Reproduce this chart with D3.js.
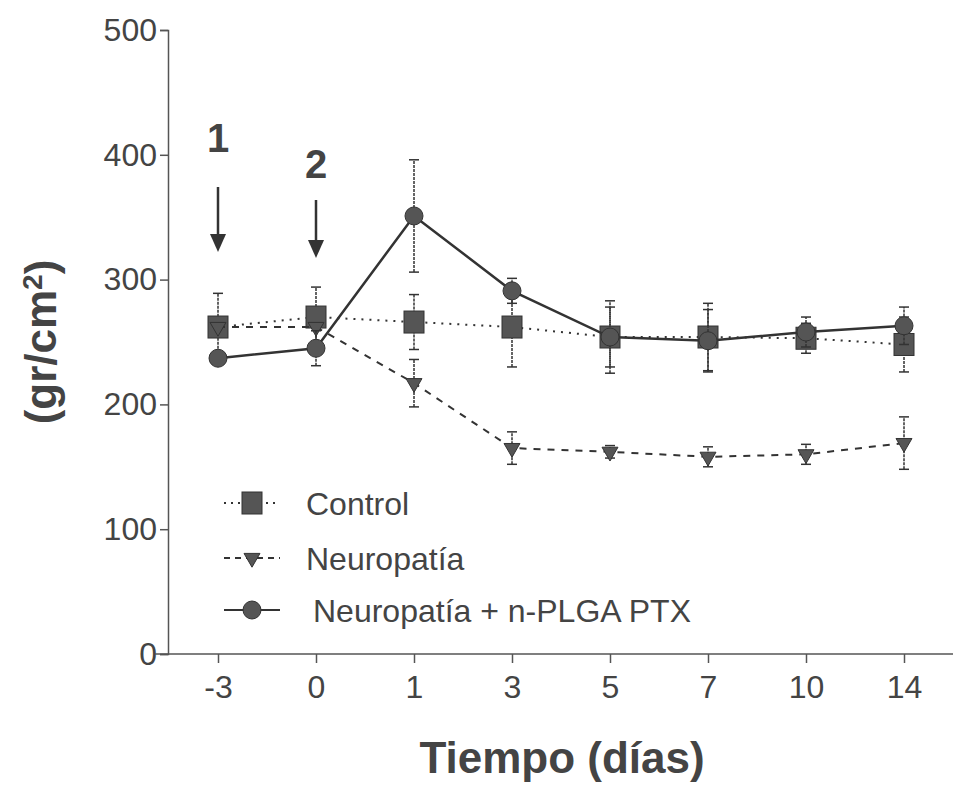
<!DOCTYPE html>
<html>
<head>
<meta charset="utf-8">
<script src="https://cdn.jsdelivr.net/npm/d3@7"></script>
<style>
  body { margin: 0; background: #fff; }
  text { font-family: "Liberation Sans", Arial, sans-serif; fill: #444; }
</style>
</head>
<body>
<div id="chart"></div>
<script>
// data
const days = ["-3", "0", "1", "3", "5", "7", "10", "14"];
const yTicks = [0, 100, 200, 300, 400, 500];

const controlMean = [262, 270, 266, 262, 254, 254, 253, 248];
const controlErr = [27, 24, 22, 32, 29, 27, 12, 22];
const neuroMean = [262, 262, 217, 165, 162, 158, 160, 169];
const neuroErr = [0, 0, 19, 13, 5, 8, 8, 21];
const ptxMean = [237, 245, 351, 291, 254, 251, 258, 263];
const ptxErr = [0, 14, 45, 10, 24, 25, 12, 15];

const series = [
  { name: "Control", mean: controlMean, err: controlErr, dash: "2,6", shape: "square", tx: 306 },
  { name: "Neuropatía", mean: neuroMean, err: neuroErr, dash: "7,7", shape: "triangle", tx: 306 },
  { name: "Neuropatía + n-PLGA PTX", mean: ptxMean, err: ptxErr, dash: null, shape: "circle", tx: 313 },
];

const width = 953, height = 785;
const svg = d3.select("#chart").append("svg").attr("width", width).attr("height", height);

const x = d3.scalePoint().domain(days).range([218, 904]);
const y = d3.scaleLinear().domain([0, 500]).range([654, 30]);
const ink = "#333";

// y axis
const yAxis = svg.append("g").attr("transform", "translate(168,0)")
  .call(d3.axisLeft(y).tickValues(yTicks).tickSize(8).tickPadding(3));
yAxis.select(".domain").attr("stroke", "#555").attr("stroke-width", 1.5);
yAxis.selectAll(".tick line").attr("stroke", "#555").attr("stroke-width", 1.5);
yAxis.selectAll(".tick text").attr("font-size", 32);

// x axis: line runs on to the right edge
svg.append("line").attr("x1", 155).attr("x2", width).attr("y1", y(0)).attr("y2", y(0))
  .attr("stroke", "#555").attr("stroke-width", 1.5);
const xAxis = svg.append("g").attr("transform", `translate(0,${y(0)})`)
  .call(d3.axisBottom(x).tickSize(9).tickPadding(12));
xAxis.select(".domain").remove();
xAxis.selectAll(".tick line").attr("stroke", "#555").attr("stroke-width", 1.5);
xAxis.selectAll(".tick text").attr("font-size", 32);

// axis titles
svg.append("text").attr("x", 562).attr("y", 773).attr("text-anchor", "middle")
  .attr("font-size", 44).attr("font-weight", "bold").text("Tiempo (días)");
svg.append("text").attr("transform", "translate(56,342) rotate(-90)").attr("text-anchor", "middle")
  .attr("font-size", 44).attr("font-weight", "bold")
  .html('(gr/cm<tspan dy="-14" font-size="28">2</tspan><tspan dy="14">)</tspan>');

// markers
function marker(g, shape, cx, cy) {
  if (shape === "square") {
    g.append("rect").attr("x", cx - 10).attr("y", cy - 11).attr("width", 20).attr("height", 22)
      .attr("fill", "#555").attr("stroke", ink);
  } else if (shape === "triangle") {
    g.append("path").attr("d", d3.symbol(d3.symbolTriangle, 110)())
      .attr("transform", `translate(${cx},${cy}) rotate(180)`)
      .attr("fill", "#555").attr("stroke", ink);
  } else {
    g.append("circle").attr("cx", cx).attr("cy", cy).attr("r", 9)
      .attr("fill", "#555").attr("stroke", ink);
  }
}

const line = d3.line().x((d, i) => x(days[i])).y(d => y(d));

series.forEach(s => {
  const g = svg.append("g");
  g.append("path").datum(s.mean).attr("d", line).attr("fill", "none")
    .attr("stroke", ink).attr("stroke-width", s.dash ? 2 : 2.5)
    .attr("stroke-dasharray", s.dash);
  s.mean.forEach((m, i) => {
    const e = s.err[i];
    if (e > 0) {
      const cx = x(days[i]);
      g.append("line").attr("x1", cx).attr("x2", cx).attr("y1", y(m - e)).attr("y2", y(m + e))
        .attr("stroke", ink).attr("stroke-width", 1.5).attr("stroke-dasharray", "3,1");
      [m - e, m + e].forEach(v => g.append("line").attr("x1", cx - 5).attr("x2", cx + 5)
        .attr("y1", y(v)).attr("y2", y(v)).attr("stroke", ink).attr("stroke-width", 1.5));
    }
  });
  s.mean.forEach((m, i) => marker(g, s.shape, x(days[i]), y(m)));
});

// injection arrows
const arrows = [{ label: "1", day: "-3", ty: 152, y1: 187, y2: 252 }, { label: "2", day: "0", ty: 178, y1: 200, y2: 258 }];
arrows.forEach(a => {
  const cx = x(a.day);
  svg.append("text").attr("x", cx).attr("y", a.ty).attr("text-anchor", "middle")
    .attr("font-size", 40).attr("font-weight", "bold").text(a.label);
  svg.append("line").attr("x1", cx).attr("x2", cx).attr("y1", a.y1).attr("y2", a.y2 - 12)
    .attr("stroke", ink).attr("stroke-width", 2.5);
  svg.append("path").attr("d", `M${cx - 8},${a.y2 - 18} L${cx + 8},${a.y2 - 18} L${cx},${a.y2} Z`).attr("fill", ink);
});

// legend
const legendDash = ["2,5", "6,5", null];
const legend = svg.append("g");
series.forEach((s, i) => {
  const ly = [503, 558, 610][i];
  legend.append("line").attr("x1", 224).attr("x2", 280).attr("y1", ly).attr("y2", ly)
    .attr("stroke", ink).attr("stroke-width", 2).attr("stroke-dasharray", legendDash[i]);
  marker(legend, s.shape, 252, ly);
  legend.append("text").attr("x", s.tx).attr("y", ly + 12).attr("font-size", 32).text(s.name);
});
</script>
</body>
</html>
